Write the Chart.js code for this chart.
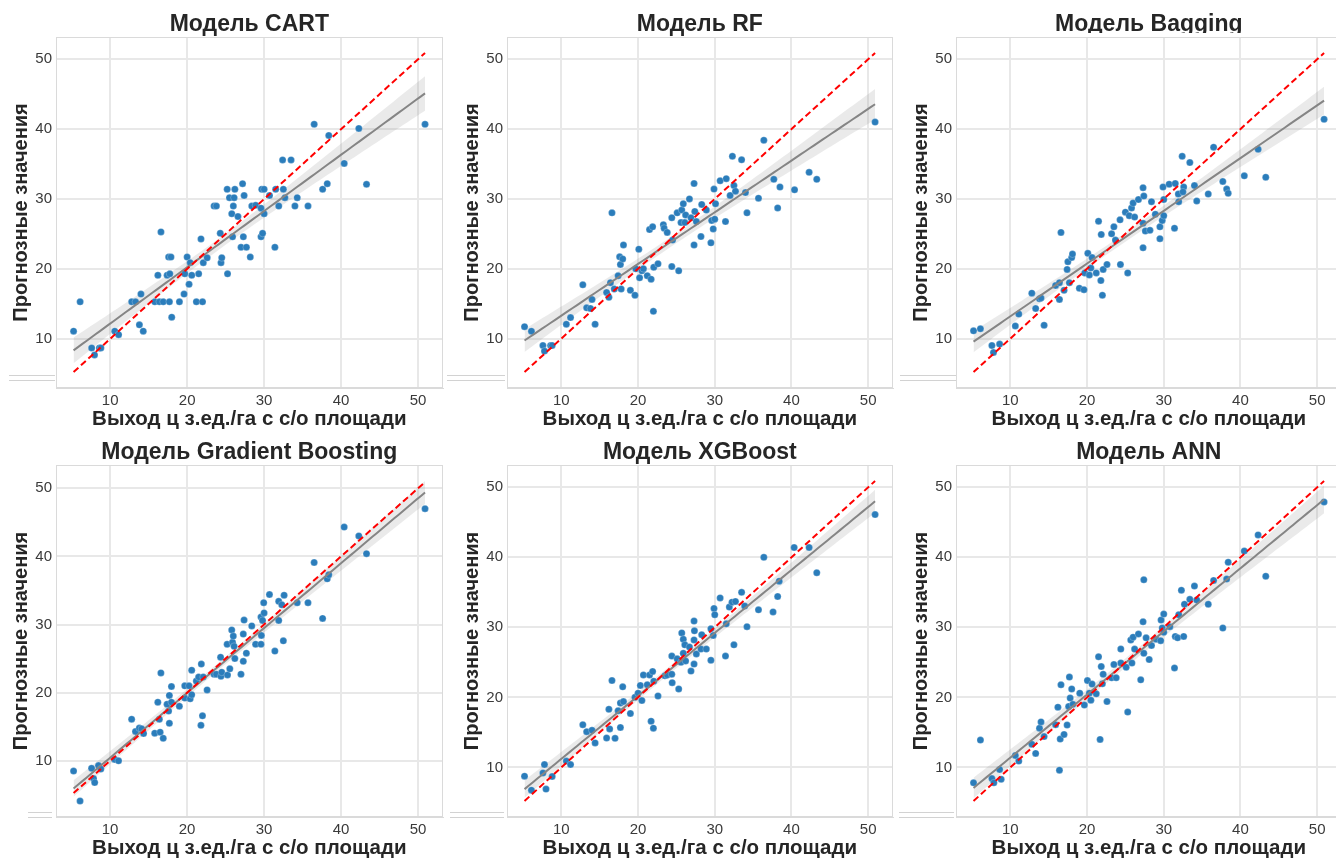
<!DOCTYPE html>
<html><head><meta charset="utf-8">
<script src="https://cdn.jsdelivr.net/npm/chart.js@4.4.1/dist/chart.umd.min.js"></script>
<style>
html,body{margin:0;padding:0;background:#fff;width:1336px;height:859px;overflow:hidden;position:relative}
canvas{position:absolute}
.box{position:absolute;border-top:1px solid #d2d2d2;border-bottom:1px solid #d2d2d2;box-sizing:border-box;background:#fff}
</style></head><body>
<canvas id="c0" width="447" height="430" style="left:0;top:0"></canvas>
<canvas id="c1" width="446" height="430" style="left:451px;top:0"></canvas>
<canvas id="c2" width="446" height="430" style="left:900px;top:0"></canvas>
<canvas id="c3" width="447" height="431" style="left:0;top:428px"></canvas>
<canvas id="c4" width="446" height="431" style="left:451px;top:428px"></canvas>
<canvas id="c5" width="446" height="431" style="left:900px;top:428px"></canvas>
<div class="box" style="left:9px;top:375px;width:46px;height:6px"></div>
<div class="box" style="left:447px;top:375px;width:58px;height:6px"></div>
<div class="box" style="left:900px;top:375px;width:56px;height:6px"></div>
<div class="box" style="left:28px;top:812px;width:24px;height:6px"></div>
<div class="box" style="left:450px;top:812px;width:54px;height:6px"></div>
<div class="box" style="left:899px;top:812px;width:55px;height:6px"></div>
<div style="position:absolute;left:1040px;top:33px;width:230px;height:3px;background:#fff"></div>
<script>
const TICKS = [10, 20, 30, 40, 50];
const X_TITLE = 'Выход ц з.ед./га с с/о площади';
const Y_TITLE = 'Прогнозные значения';
const TITLES = ['Модель CART', 'Модель RF', 'Модель Bagging', 'Модель Gradient Boosting', 'Модель XGBoost', 'Модель ANN'];

const cartActual = [5.25,6.1,7.6,7.97,8.6,8.8,10.6,11.1,12.8,13.3,13.8,14.0,14.3,15.8,16.2,16.4,16.6,16.9,17.4,17.6,17.7,17.75,17.9,18.0,19.0,19.6,19.7,20.0,20.25,20.4,20.6,21.2,21.5,21.8,22.0,22.1,22.6,23.5,23.8,24.3,24.4,24.5,25.2,25.25,25.5,25.8,25.9,26.0,26.1,26.2,26.6,27.0,27.2,27.3,27.4,27.7,28.2,28.4,28.9,29.6,29.6,29.7,29.8,30.0,30.0,30.7,31.4,31.5,31.9,32.4,32.5,32.7,33.5,34.0,34.3,35.7,36.5,37.6,38.2,38.4,40.4,42.3,43.3,50.9];
const cartPred = [11.1,15.3,8.7,7.7,8.7,8.7,11.1,10.6,15.3,15.3,12.0,16.4,11.1,15.3,19.1,15.3,25.3,15.3,19.1,21.7,15.3,19.3,21.7,13.1,15.3,16.4,19.3,21.7,17.8,20.9,19.1,15.3,19.3,24.3,15.3,20.9,21.6,29.0,29.0,25.1,20.9,21.6,31.4,19.3,30.2,27.9,24.6,29.0,30.2,31.4,27.5,23.1,32.2,24.6,30.5,23.1,21.7,29.0,29.1,28.7,24.6,31.4,25.1,31.4,27.9,30.5,23.1,31.4,29.0,35.6,31.4,30.2,35.6,29.0,30.2,29.0,40.7,31.4,32.2,39.1,35.1,40.1,32.1,40.7];

const rfActual = [5.2,6.1,7.6,7.8,8.6,8.8,10.65,11.2,12.8,13.3,13.8,14.0,14.4,15.9,16.2,16.4,16.6,16.9,17.4,17.6,17.7,17.8,18.0,18.1,19.0,19.6,19.7,20.1,20.2,20.5,20.7,21.2,21.5,21.7,21.9,22.0,22.05,22.6,23.3,23.4,23.8,24.4,24.4,24.5,25.1,25.3,25.6,25.7,25.9,26.1,26.2,26.7,26.9,27.3,27.3,27.4,27.6,28.2,28.3,28.9,29.5,29.6,29.8,29.9,30.0,30.1,30.7,31.4,31.5,32.0,32.3,32.5,32.7,33.5,34.0,34.2,35.7,36.4,37.7,38.2,38.5,40.4,42.3,43.3,50.9];
const rfPred = [11.7,11.05,9.0,8.2,9.0,9.0,12.05,13.0,17.7,14.4,14.3,15.6,12.05,16.6,15.9,18.0,28.0,17.1,19.0,21.7,20.6,17.1,21.4,23.4,16.9,16.2,20.0,22.8,18.7,19.7,20.0,19.0,25.6,18.5,26.0,13.9,20.2,20.7,26.3,25.8,25.2,27.3,20.3,24.1,28.0,19.7,26.6,28.4,29.3,26.6,27.7,30.0,27.3,32.2,23.4,28.2,26.75,24.6,29.2,28.4,23.7,26.9,25.7,31.4,27.1,29.3,32.6,26.75,32.9,30.5,36.1,31.9,31.1,35.6,30.9,28.0,30.1,38.4,32.8,28.7,31.7,31.3,33.8,32.8,41.0];

const bagActual = [5.2,6.1,7.6,7.8,8.6,10.65,11.1,12.8,13.3,13.8,14.0,14.4,15.9,16.4,16.6,16.4,17.0,17.4,17.5,17.7,18.0,18.1,19.0,19.6,19.7,20.1,20.3,20.5,20.65,21.2,21.5,21.8,21.85,22.0,22.1,22.6,23.2,23.5,23.7,24.3,24.35,25.0,25.3,25.5,25.8,26.0,26.2,26.7,27.3,27.3,27.4,27.3,27.6,28.2,28.4,28.9,29.5,29.5,29.8,29.9,30.0,30.0,30.7,31.4,31.5,31.9,31.95,32.4,32.6,32.5,33.4,34.0,34.3,35.8,36.5,37.7,38.2,38.4,40.5,42.3,43.3,50.9];
const bagPred = [11.1,11.4,9.0,8.0,9.2,11.8,13.5,16.5,14.3,15.7,15.8,11.9,17.6,15.6,25.2,18.0,16.9,19.9,21.0,18.0,21.6,22.1,17.2,17.0,19.4,22.2,19.1,20.1,21.6,19.4,26.8,18.3,24.9,16.2,19.9,20.6,25.0,26.0,24.1,27.0,20.6,28.1,19.4,27.6,28.7,29.4,27.4,29.9,23.0,31.6,30.4,26.5,25.4,25.5,29.6,27.8,24.3,26.0,26.9,31.7,27.6,29.9,32.1,25.8,32.2,30.7,29.6,36.1,31.7,31.0,35.2,31.9,29.7,30.7,37.4,32.5,31.4,30.8,33.3,37.1,33.1,41.4];

const gbActual = [5.26,6.1,7.6,7.85,8.0,8.5,8.8,10.6,11.1,12.8,13.3,13.8,14.1,14.35,15.8,16.2,16.4,16.5,16.6,16.9,17.4,17.6,17.7,17.7,17.97,17.97,19.0,19.7,19.7,20.25,20.4,20.6,20.6,21.2,21.5,21.8,21.85,22.0,22.1,22.6,23.5,23.8,24.35,24.4,24.5,25.2,25.25,25.55,25.8,25.9,26.0,26.1,26.2,27.0,27.3,27.3,27.4,27.7,28.4,28.9,29.6,29.6,29.65,29.8,29.95,30.0,30.7,31.4,31.9,31.9,32.3,32.5,32.6,34.3,35.7,36.5,37.6,38.2,38.4,40.4,42.3,43.3,50.9];
const gbPred = [8.5,4.1,8.9,7.4,6.8,9.3,8.8,10.2,10.0,16.1,14.3,14.8,14.7,14.0,14.05,18.6,16.1,14.2,22.9,13.3,18.3,17.3,15.5,19.6,20.9,18.6,18.0,21.0,19.2,21.0,19.1,19.7,23.3,21.7,22.3,15.2,24.2,16.6,22.3,20.4,22.7,22.7,25.2,22.4,23.0,27.1,22.6,23.5,29.2,27.4,28.3,26.8,25.0,22.7,28.6,24.6,30.65,25.8,29.8,27.1,27.1,31.1,28.4,30.6,33.2,31.7,34.4,26.1,33.4,30.6,32.9,27.6,34.3,33.2,33.2,39.1,30.9,36.7,37.3,44.3,43.0,40.4,47.0];

const xgbActual = [5.2,6.1,7.6,7.8,8.0,8.8,10.65,11.2,12.8,13.3,14.0,14.4,15.9,16.2,16.3,16.6,17.0,17.4,17.7,17.7,18.0,18.1,19.0,19.6,20.0,20.3,20.5,20.7,21.2,21.5,21.7,21.9,22.0,22.05,22.6,23.5,23.8,24.4,24.45,24.4,25.1,25.3,25.6,25.7,25.9,25.9,26.1,26.2,26.7,26.9,27.3,27.35,27.3,27.3,27.6,28.2,28.3,28.9,29.5,29.5,29.8,29.9,30.0,30.7,31.4,31.5,31.9,32.25,32.5,32.7,33.5,33.9,34.2,35.7,36.4,37.6,38.2,38.4,40.35,42.3,43.3,50.9];
const xgbPred = [8.75,6.75,9.2,10.4,6.9,8.7,10.9,10.4,16.1,15.1,15.3,13.5,14.2,18.3,15.5,22.4,14.15,18.1,15.7,19.2,21.5,19.4,17.7,20.0,20.6,21.7,19.55,23.2,21.8,23.2,16.6,23.7,15.6,22.3,20.2,23.1,23.2,25.9,22.1,23.3,25.5,21.2,25.0,29.2,28.3,26.3,27.5,25.2,27.2,23.75,30.9,29.5,28.2,24.75,26.2,26.9,28.95,26.9,25.3,29.8,28.85,32.7,31.8,34.2,25.9,30.5,32.9,33.6,27.5,33.7,35.0,33.05,30.1,32.5,40.0,32.2,34.4,36.6,41.4,41.4,37.8,46.1];

const annActual = [5.2,6.1,7.6,7.85,8.6,8.8,10.65,11.1,12.8,13.3,13.8,14.0,14.4,15.9,16.2,16.4,16.5,16.6,17.0,17.4,17.6,17.7,17.8,18.0,18.15,19.05,19.65,20.05,20.3,20.5,20.65,21.2,21.5,21.7,21.85,22.0,22.1,22.6,23.2,23.5,23.8,24.4,24.4,25.1,25.3,25.7,26.0,25.85,26.2,26.7,27.0,27.3,27.4,27.4,27.7,28.1,28.4,29.0,29.6,29.65,29.8,30.0,30.0,30.8,31.4,31.5,31.8,31.95,32.3,32.6,32.7,33.4,34.0,34.3,35.8,36.5,37.7,38.2,38.4,40.5,42.3,43.3,50.9];
const annPred = [7.8,13.9,8.4,7.8,9.7,8.3,11.7,10.9,13.3,12.0,15.6,16.5,14.4,16.1,18.6,9.6,14.05,21.8,14.7,16.05,18.7,22.9,19.9,21.2,19.0,20.6,18.9,22.4,20.6,19.6,21.9,20.5,25.8,14.0,24.4,21.95,23.3,19.4,22.8,24.7,22.8,26.9,24.9,24.3,17.9,28.2,28.6,24.9,26.9,29.05,22.5,30.8,36.8,26.3,28.5,25.4,27.4,28.3,28.1,31.05,29.9,31.9,29.3,30.1,24.2,28.7,28.5,31.8,35.3,28.7,33.3,34.0,35.9,33.9,33.3,36.7,29.9,36.9,39.3,40.9,43.2,37.3,47.9];

const panels = [
  {id: 'c0', title: TITLES[0], xs: cartActual, ys: cartPred},
  {id: 'c1', title: TITLES[1], xs: rfActual, ys: rfPred},
  {id: 'c2', title: TITLES[2], xs: bagActual, ys: bagPred},
  {id: 'c3', title: TITLES[3], xs: gbActual, ys: gbPred},
  {id: 'c4', title: TITLES[4], xs: xgbActual, ys: xgbPred},
  {id: 'c5', title: TITLES[5], xs: annActual, ys: annPred}
];

function regression(xs, ys) {
  const n = Math.min(xs.length, ys.length);
  let mx = 0, my = 0;
  for (let i = 0; i < n; i++) { mx += xs[i]; my += ys[i]; }
  mx /= n; my /= n;
  let sxx = 0, sxy = 0;
  for (let i = 0; i < n; i++) { sxx += (xs[i]-mx)**2; sxy += (xs[i]-mx)*(ys[i]-my); }
  const b = sxy / sxx, a = my - b * mx;
  let sse = 0;
  for (let i = 0; i < n; i++) sse += (ys[i] - a - b*xs[i])**2;
  const s = Math.sqrt(sse / (n - 2));
  const t = 1.99;
  const lo = Math.min(...xs.slice(0, n)), hi = Math.max(...xs.slice(0, n));
  const line = [], upper = [], lower = [];
  const N = 80;
  for (let k = 0; k <= N; k++) {
    const x = lo + (hi - lo) * k / N;
    const yh = a + b * x;
    const se = s * Math.sqrt(1/n + (x-mx)**2 / sxx);
    line.push({x, y: yh}); upper.push({x, y: yh + t*se}); lower.push({x, y: yh - t*se});
  }
  return {n, line, upper, lower, lo, hi};
}

const frame = {
  id: 'frame',
  beforeDatasetsDraw(c) {
    const a = c.chartArea, g = c.ctx;
    g.save(); g.strokeStyle = '#dadada'; g.lineWidth = 1;
    g.strokeRect(Math.round(a.left)+0.5, Math.round(a.top)+0.5, Math.round(a.width)-1, Math.round(a.height)-1);
    g.restore();
  }
};

const FONT = "'Liberation Sans', Arial, sans-serif";

panels.forEach(p => {
  const R = regression(p.xs, p.ys);
  const pts = [];
  for (let i = 0; i < R.n; i++) pts.push({x: p.xs[i], y: p.ys[i]});
  const allY = p.ys.concat(R.upper.map(d => d.y), R.lower.map(d => d.y), [R.lo, R.hi]);
  const xr = R.hi - R.lo;
  const ymin = Math.min(...allY), ymax = Math.max(...allY), yr = ymax - ymin;
  new Chart(document.getElementById(p.id), {
    type: 'scatter',
    data: {datasets: [
      {type: 'line', data: R.lower, borderWidth: 0, pointRadius: 0, fill: false, order: 4},
      {type: 'line', data: R.upper, borderWidth: 0, pointRadius: 0, fill: '-1', backgroundColor: 'rgba(128,128,128,0.17)', order: 3},
      {type: 'scatter', data: pts, pointRadius: 3.5, backgroundColor: '#2b7dbb', borderColor: 'rgba(255,255,255,0.6)', borderWidth: 0.4, order: 2},
      {type: 'line', data: R.line, borderColor: '#858585', borderWidth: 2, pointRadius: 0, fill: false, order: 1},
      {type: 'line', data: [{x: R.lo, y: R.lo}, {x: R.hi, y: R.hi}], borderColor: '#ff0000', borderWidth: 2, borderDash: [6.5, 3.5], pointRadius: 0, fill: false, order: 0}
    ]},
    options: {
      responsive: false, animation: false, events: [],
      layout: {padding: {right: 2}},
      plugins: {
        legend: {display: false}, tooltip: {enabled: false},
        title: {display: true, text: p.title, fullSize: false, color: '#262626',
          font: {family: FONT, size: 23, weight: 'bold', lineHeight: 1}, padding: {top: 13, bottom: 1}}
      },
      scales: {
        x: {type: 'linear', min: R.lo - 0.05*xr, max: R.hi + 0.05*xr,
          afterBuildTicks: s => { s.ticks = TICKS.map(v => ({value: v})); },
          afterFit: s => { s.height = 42; },
          grid: {color: '#e8e8e8', lineWidth: 2, drawTicks: false}, border: {color: '#dadada', width: 1},
          ticks: {padding: 4, color: '#3a3a3a', font: {family: FONT, size: 15}},
          title: {display: true, text: X_TITLE, color: '#262626', font: {family: FONT, size: 20.5, weight: 'bold', lineHeight: 1}, padding: {top: 0, bottom: 0}}
        },
        y: {type: 'linear', min: ymin - 0.05*yr, max: ymax + 0.05*yr,
          afterBuildTicks: s => { s.ticks = TICKS.map(v => ({value: v})); },
          afterFit: s => { s.width = 56; },
          grid: {color: '#e8e8e8', lineWidth: 2, drawTicks: false}, border: {color: '#dadada', width: 1},
          ticks: {padding: 4, color: '#3a3a3a', font: {family: FONT, size: 15}},
          title: {display: true, text: Y_TITLE, color: '#262626', font: {family: FONT, size: 20, weight: 'bold', lineHeight: 1}, padding: {top: 11, bottom: 0}}
        }
      }
    },
    plugins: [frame]
  });
});
</script>
</body></html>
